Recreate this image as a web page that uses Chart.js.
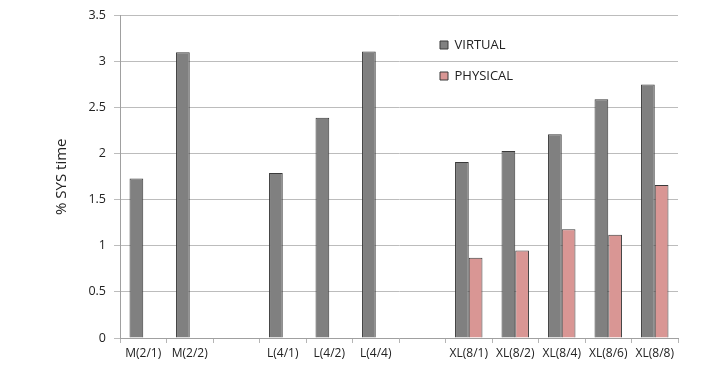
<!DOCTYPE html>
<html>
<head>
<meta charset="utf-8">
<script src="https://cdn.jsdelivr.net/npm/chart.js@4/dist/chart.umd.min.js"></script>
<style>
html,body{margin:0;padding:0;background:#fff;}
#wrap{position:relative;width:719px;height:373px;}
</style>
</head>
<body>
<div id="wrap"><canvas id="c" width="719" height="373"></canvas></div>
<script>
const categories = ['M(2/1)', 'M(2/2)', '', 'L(4/1)', 'L(4/2)', 'L(4/4)', '', 'XL(8/1)', 'XL(8/2)', 'XL(8/4)', 'XL(8/6)', 'XL(8/8)'];
const virtualValues = [1.73, 3.10, null, 1.79, 2.39, 3.11, null, 1.91, 2.03, 2.21, 2.59, 2.75];
const physicalValues = [null, null, null, null, null, null, null, 0.87, 0.95, 1.18, 1.12, 1.66];
const yTicks = [0, 0.5, 1, 1.5, 2, 2.5, 3, 3.5];
const seriesNames = ['VIRTUAL', 'PHYSICAL'];
const yTitle = '% SYS time';

const legendPlace = {
  id: 'legendPlace',
  afterLayout(chart) {
    const lg = chart.legend;
    if (!lg) return;
    const w = lg.width, h = lg.height;
    lg.left = 422; lg.top = 20.5;
    lg.right = lg.left + w; lg.bottom = lg.top + h;
  }
};

new Chart(document.getElementById('c'), {
  type: 'bar',
  data: {
    labels: categories,
    datasets: [
      { label: seriesNames[0], data: virtualValues, backgroundColor: '#808080', borderColor: '#3a3a3a', borderWidth: 1 },
      { label: seriesNames[1], data: physicalValues, backgroundColor: '#d99694', borderColor: '#3a3a3a', borderWidth: 1 }
    ]
  },
  options: {
    responsive: false,
    animation: false,
    layout: { padding: { left: 47, right: 41, top: 14, bottom: 0 } },
    datasets: { bar: { categoryPercentage: 0.59, barPercentage: 1.0 } },
    plugins: {
      legend: {
        position: 'chartArea',
        align: 'start',
        labels: {
          boxWidth: 8, boxHeight: 8, padding: 18,
          color: '#222', font: { family: 'Open Sans', size: 13 }
        }
      },
      tooltip: { enabled: false }
    },
    scales: {
      x: {
        grid: { display: true, drawOnChartArea: false, drawTicks: true, tickLength: 5, color: '#b5b5b5', offset: true },
        border: { display: true, color: '#a0a0a0' },
        ticks: { color: '#222', font: { family: 'Open Sans', size: 12 }, maxRotation: 0, autoSkip: false, padding: 3 },
        afterFit(s) { s.height = 35; }
      },
      y: {
        min: 0, max: 3.5,
        afterBuildTicks(s) { s.ticks = yTicks.map(v => ({ value: v })); },
        grid: { color: '#bcbcbc', tickLength: 6, drawTicks: true },
        border: { display: true, color: '#a0a0a0' },
        ticks: { color: '#222', font: { family: 'Open Sans', size: 12.5 }, padding: 8, callback: v => String(v) },
        title: { display: true, text: yTitle, color: '#222', font: { family: 'Open Sans', size: 15 }, padding: { top: 6, bottom: 0 } },
        afterFit(s) { s.width = 73; }
      }
    }
  },
  plugins: [legendPlace]
});
</script>
</body>
</html>
